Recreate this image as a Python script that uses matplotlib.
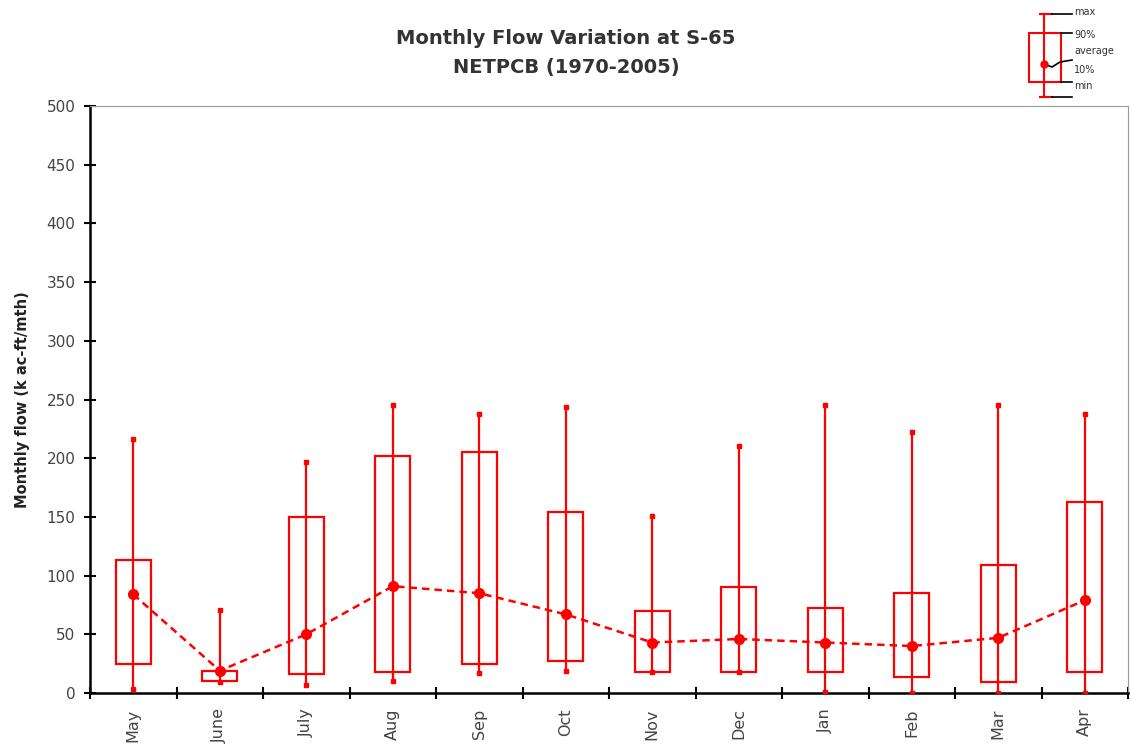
import numpy as np
from matplotlib import pyplot as plt

# data (k ac-ft per month)
months = ["May", "June", "July", "Aug", "Sep", "Oct", "Nov", "Dec", "Jan", "Feb", "Mar", "Apr"]
flow_max = [216, 71, 197, 245, 238, 244, 151, 210, 245, 222, 245, 238]
flow_p90 = [113, 19, 150, 202, 205, 154, 70, 90, 72, 85, 109, 163]
flow_avg = [84, 19, 50, 91, 85, 67, 43, 46, 43, 40, 47, 79]
flow_p10 = [25, 10, 16, 18, 25, 27, 18, 18, 18, 14, 9, 18]
flow_min = [3, 9, 7, 10, 17, 19, 18, 18, 1, 0, 0, 0]

rouge = "#ff0000"
W, H = 1130, 755

fig = plt.figure(figsize=(W / 100, H / 100), dpi=100)
ax = fig.add_axes([90 / W, 62 / H, 1038 / W, 587 / H])

x = np.arange(len(months))
largeur_boite = 0.41

# whiskers min -> max
ax.vlines(x, flow_min, flow_max, color=rouge, lw=1.6, zorder=2)
ax.plot(x, flow_max, ls="none", marker="s", ms=3, color=rouge, zorder=3)
ax.plot(x, flow_min, ls="none", marker="s", ms=3, color=rouge, zorder=3)

# boxes 10% -> 90%
for k in range(len(months)):
    bas = flow_p10[k]
    haut = flow_p90[k]
    rect = plt.Rectangle((x[k] - largeur_boite / 2, bas), largeur_boite, haut - bas,
                         fill=False, edgecolor=rouge, lw=1.6, zorder=2)
    ax.add_patch(rect)

# average line
ax.plot(x, flow_avg, ls=(0, (3, 2)), lw=1.8, color=rouge, marker="o", ms=7, zorder=4)

ax.set_xlim(-0.5, len(months) - 0.5)
ax.set_ylim(0, 500)
ax.set_yticks(np.arange(0, 501, 50))
ax.set_xticks(x)
ax.set_xticklabels(months, rotation=90, fontsize=11.5, color="#444444")
ax.set_xticks(np.arange(-0.5, len(months)), minor=True)
ax.tick_params(axis="x", which="major", length=0, pad=11)
ax.tick_params(axis="x", which="minor", direction="inout", length=9, width=1.5, color="black")
ax.tick_params(axis="y", direction="inout", length=9, width=1.5, labelsize=11,
               labelcolor="#444444", pad=6)

ax.spines["left"].set_linewidth(1.8)
ax.spines["bottom"].set_linewidth(1.8)
ax.spines["top"].set_color("#999999")
ax.spines["right"].set_color("#999999")

ax.set_ylabel("Monthly flow (k ac-ft/mth)", fontsize=10.5, fontweight="bold", labelpad=12,
              color="#222222")

fig.text(566 / W, 1 - 38 / H, "Monthly Flow Variation at S-65", ha="center", va="center",
         fontsize=14, fontweight="bold", color="#333333")
fig.text(566 / W, 1 - 67 / H, "NETPCB (1970-2005)", ha="center", va="center",
         fontsize=14, fontweight="bold", color="#333333")

# legend key, top right, in figure pixels
lg = fig.add_axes([0, 0, 1, 1], zorder=5)
lg.set_xlim(0, W)
lg.set_ylim(H, 0)
lg.axis("off")
lg.plot([1044, 1044], [14, 97], color=rouge, lw=1.5)
lg.plot([1040, 1052], [14, 14], color=rouge, lw=1.5)
lg.plot([1040, 1052], [97, 97], color=rouge, lw=1.5)
lg.plot([1052, 1072], [14, 14], color="black", lw=1.2)
lg.plot([1052, 1072], [97, 97], color="black", lw=1.2)
lg.add_patch(plt.Rectangle((1029, 33), 32, 49, fill=False, edgecolor=rouge, lw=1.5))
lg.plot([1061, 1072], [33, 33], color="black", lw=1.2)
lg.plot([1061, 1072], [82, 82], color="black", lw=1.2)
lg.plot([1044, 1052, 1060, 1072], [64, 67, 62, 60], color="black", lw=1.2)
lg.plot([1044], [64], marker="o", ms=5, color=rouge)
for texte, yy in [("max", 12), ("90%", 35), ("average", 51), ("10%", 70), ("min", 86)]:
    lg.text(1074, yy, texte, fontsize=7, va="center", ha="left", color="#333333")

fig.savefig("out.png", dpi=100)
